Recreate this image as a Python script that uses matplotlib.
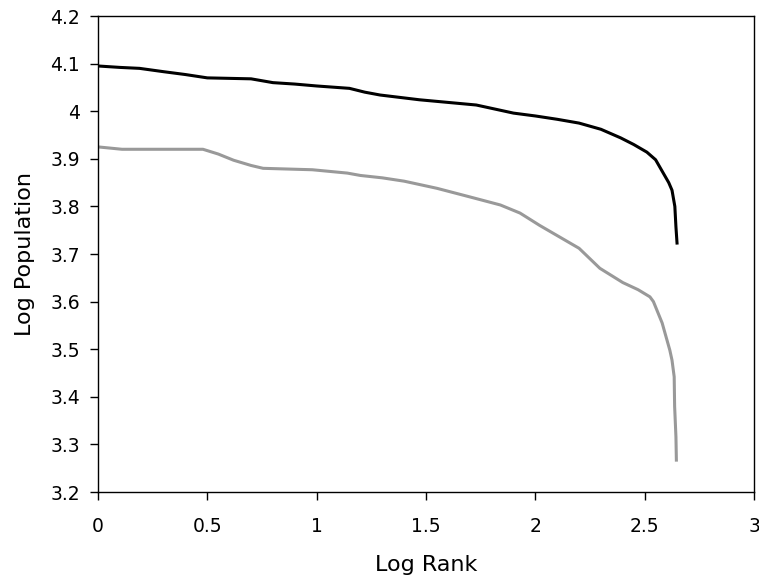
import matplotlib
matplotlib.use("Agg")
from matplotlib import pyplot as plt

# Upper series (black)
rank_a = [0.0, 0.10, 0.19, 0.30, 0.40, 0.50, 0.70, 0.80, 0.90, 1.00, 1.15, 1.22,
          1.29, 1.47, 1.73, 1.90, 2.00, 2.10, 2.20, 2.30, 2.39, 2.45, 2.51, 2.55,
          2.585, 2.61, 2.625, 2.638, 2.643, 2.648]
pop_a = [4.095, 4.092, 4.090, 4.083, 4.077, 4.070, 4.068, 4.060, 4.057, 4.053, 4.048,
         4.040, 4.034, 4.024, 4.013, 3.996, 3.990, 3.983, 3.975, 3.962, 3.944, 3.930,
         3.914, 3.898, 3.870, 3.850, 3.834, 3.800, 3.757, 3.723]

# Lower series (gray)
rank_b = [0.0, 0.11, 0.48, 0.55, 0.62, 0.70, 0.755, 0.98, 1.14, 1.20, 1.30, 1.40,
          1.55, 1.70, 1.84, 1.93, 2.02, 2.11, 2.20, 2.295, 2.40, 2.47, 2.524, 2.54,
          2.58, 2.615, 2.625, 2.635, 2.637, 2.643, 2.645]
pop_b = [3.925, 3.920, 3.920, 3.910, 3.897, 3.886, 3.880, 3.877, 3.870, 3.865, 3.860,
         3.853, 3.838, 3.820, 3.803, 3.786, 3.760, 3.736, 3.712, 3.670, 3.640, 3.625,
         3.610, 3.600, 3.555, 3.498, 3.477, 3.442, 3.380, 3.316, 3.267]

plt.rcParams['font.family'] = ['DejaVu Sans']
fig = plt.figure(figsize=(7.59, 5.81), dpi=100)
ax = fig.add_axes([98 / 759, 1 - 492 / 581, (754 - 98) / 759, (492 - 16) / 581])

ax.plot(rank_a, pop_a, color='black', linewidth=2.2)
ax.plot(rank_b, pop_b, color='#999999', linewidth=2.2)

ax.set_xlim(0, 3)
ax.set_ylim(3.2, 4.2)
ax.set_xticks([0, 0.5, 1, 1.5, 2, 2.5, 3])
ax.set_xticklabels(['0', '0.5', '1', '1.5', '2', '2.5', '3'])
ax.set_yticks([3.2, 3.3, 3.4, 3.5, 3.6, 3.7, 3.8, 3.9, 4.0, 4.1, 4.2])
ax.set_yticklabels(['3.2', '3.3', '3.4', '3.5', '3.6', '3.7', '3.8', '3.9', '4', '4.1', '4.2'])
ax.tick_params(direction='out', length=6, width=1, labelsize=13.5)
ax.tick_params(axis='x', pad=12)
ax.tick_params(axis='y', pad=7)
for s in ax.spines.values():
    s.set_linewidth(1)

ax.set_xlabel('Log Rank', fontsize=16, va='center')
ax.set_ylabel('Log Population', fontsize=16, va='center')
ax.xaxis.set_label_coords(0.5, (492 - 565) / 476)
ax.yaxis.set_label_coords((25 - 98) / 656, 0.5)

fig.savefig('out.png', dpi=100)
